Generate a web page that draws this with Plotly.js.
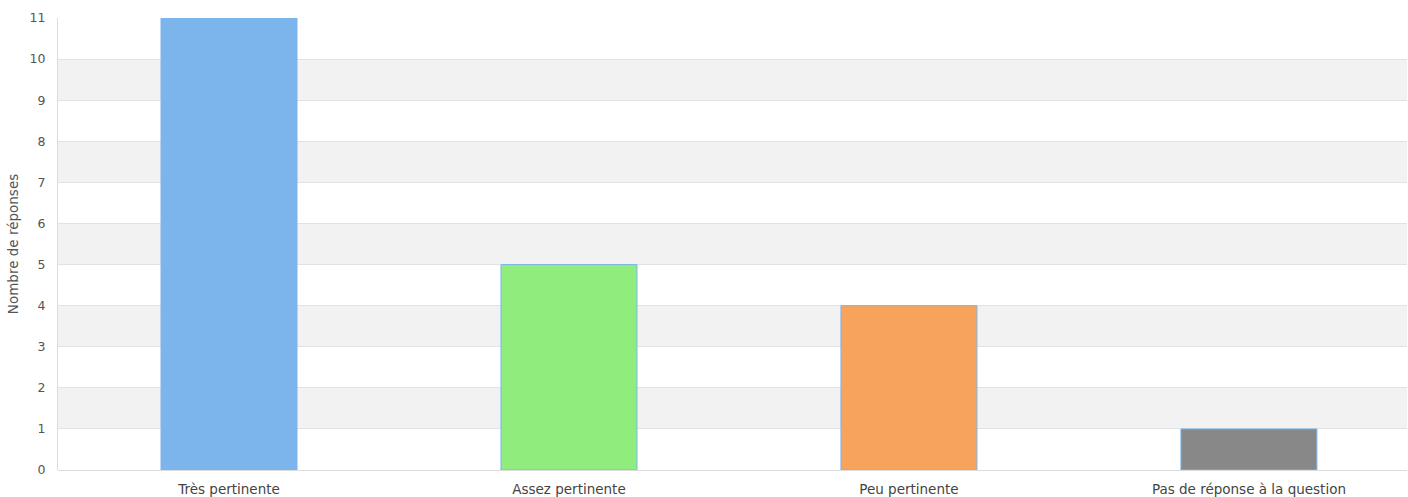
<!DOCTYPE html>
<html>
<head>
<meta charset="utf-8">
<script src="https://cdn.plot.ly/plotly-3.0.1.min.js"></script>
<style>html,body{margin:0;padding:0;background:#fff;}#chart{width:1408px;height:497px;}</style>
</head>
<body>
<div id="chart"></div>
<script>
const categories = ["Très pertinente", "Assez pertinente", "Peu pertinente", "Pas de réponse à la question"];
const values = [11, 5, 4, 1];
const barColors = ["#7cb5ec", "#90ed7d", "#f7a35c", "#888888"];
const yTicks = [0,1,2,3,4,5,6,7,8,9,10,11];
const bandStarts = [1,3,5,7,9];

const shapes = bandStarts.map(b => ({
  type: "rect", xref: "paper", yref: "y", x0: 0, x1: 1, y0: b, y1: b + 1,
  fillcolor: "#f2f2f2", line: {width: 0}, layer: "below"
}));

const trace = {
  type: "bar",
  x: categories,
  y: values,
  width: 0.4,
  marker: {color: barColors, line: {color: "#7cb5ec", width: 1}},
  hoverinfo: "x+y"
};

const layout = {
  width: 1408, height: 497,
  margin: {l: 58, r: 1, t: 18, b: 27},
  paper_bgcolor: "#ffffff",
  plot_bgcolor: "rgba(0,0,0,0)",
  font: {family: "DejaVu Sans, sans-serif", size: 13, color: "#555"},
  showlegend: false,
  shapes: shapes,
  xaxis: {
    type: "category",
    range: [-0.503, 3.465],
    showgrid: false,
    zeroline: false,
    showline: false,
    ticks: "",
    ticklabelstandoff: 9,
    tickfont: {size: 13.5, color: "#444"}
  },
  yaxis: {
    range: [0, 11],
    tickvals: yTicks,
    showgrid: true,
    gridcolor: "#e2e2e2",
    gridwidth: 1,
    zeroline: true,
    zerolinecolor: "#dcdcdc",
    zerolinewidth: 1,
    showline: true,
    linecolor: "#dcdcdc",
    linewidth: 1,
    ticks: "",
    ticklabelstandoff: 9,
    tickfont: {size: 12.5, color: "#555"},
    title: {text: "Nombre de réponses", font: {size: 13.5, color: "#555"}, standoff: 7}
  }
};

Plotly.newPlot("chart", [trace], layout, {displayModeBar: false, staticPlot: true});
</script>
</body>
</html>
